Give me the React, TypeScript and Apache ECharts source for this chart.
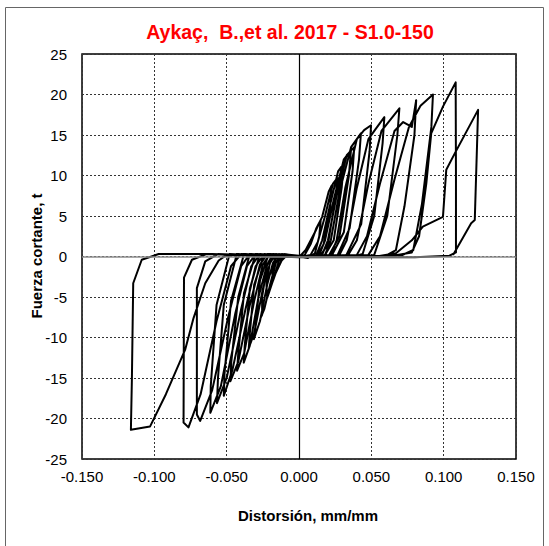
import React, { useEffect, useRef } from "react";
import * as echarts from "echarts";

const chartTitle = "Aykaç,  B.,et al. 2017 - S1.0-150";
const xAxisTitle = "Distorsión, mm/mm";
const yAxisTitle = "Fuerza cortante, t";

const xRange = [-0.15, 0.15];
const xStep = 0.05;
const yRange = [-25, 25];
const yStep = 5;

// Negative half-cycles [distortion, force]
const negativeHalfCycles: [number, number][][] = [
  [[0, 0.1], [-0.008, 0.2], [-0.012, -0.5], [-0.016, -2.0], [-0.018, -3.0], [-0.0185, -2.0], [-0.016, -0.3], [-0.01, 0.3]],
  [[0, 0.0], [-0.01, 0.3], [-0.014, -0.6], [-0.018, -3.0], [-0.021, -4.6], [-0.022, -5.1], [-0.0225, -3.5], [-0.02, -0.6], [-0.014, 0.3]],
  [[0, 0.1], [-0.012, 0.3], [-0.016, -0.8], [-0.02, -3.5], [-0.024, -6.5], [-0.0266, -7.6], [-0.0255, -7.2], [-0.0255, -5.0], [-0.022, -1.0], [-0.016, 0.3]],
  [[0, 0.1], [-0.014, 0.3], [-0.018, -0.8], [-0.022, -3.5], [-0.027, -8.0], [-0.0312, -10.2], [-0.030, -8.5], [-0.027, -3.0], [-0.021, 0.3]],
  [[0, 0.1], [-0.016, 0.3], [-0.02, -0.8], [-0.025, -4.0], [-0.031, -9.5], [-0.0347, -11.3], [-0.034, -9.5], [-0.031, -3.5], [-0.024, 0.3]],
  [[0, 0.1], [-0.018, 0.3], [-0.022, -1.0], [-0.028, -5.0], [-0.034, -11.0], [-0.0382, -13.1], [-0.0375, -11.0], [-0.034, -4.0], [-0.027, 0.3]],
  [[0, 0.1], [-0.02, 0.3], [-0.025, -1.0], [-0.031, -5.5], [-0.038, -12.0], [-0.0428, -14.1], [-0.042, -12.0], [-0.038, -4.5], [-0.03, 0.3]],
  [[0, 0.1], [-0.022, 0.3], [-0.027, -1.0], [-0.034, -6.0], [-0.042, -13.0], [-0.0474, -15.4], [-0.0468, -13.0], [-0.042, -5.0], [-0.034, 0.3]],
  [[0, 0.1], [-0.024, 0.3], [-0.03, -1.2], [-0.037, -6.5], [-0.046, -14.0], [-0.052, -17.2], [-0.0515, -14.5], [-0.047, -5.5], [-0.038, 0.3]],
  [[0, 0.1], [-0.027, 0.3], [-0.033, -1.2], [-0.04, -6.5], [-0.05, -15.0], [-0.0567, -18.1], [-0.056, -15.0], [-0.052, -6.0], [-0.043, 0.3]],
  [[0, 0.1], [-0.03, 0.3], [-0.036, -1.2], [-0.044, -7.0], [-0.054, -16.0], [-0.0613, -19.3], [-0.061, -16.0], [-0.057, -6.0], [-0.048, 0.3]],
  [[0, 0.1], [-0.034, 0.3], [-0.04, -1.2], [-0.049, -7.5], [-0.06, -16.5], [-0.0683, -20.3], [-0.0706, -19.5], [-0.0706, -3.9], [-0.0648, -0.6], [-0.056, 0.3]],
  [[0, 0.1], [-0.04, 0.3], [-0.047, -1.2], [-0.057, -8.0], [-0.068, -17.0], [-0.0764, -21.1], [-0.0798, -20.5], [-0.0795, -2.6], [-0.074, -0.4], [-0.064, 0.3]],
  [[0, 0.1], [-0.05, 0.2], [-0.0555, -0.5], [-0.0648, -3.3], [-0.0729, -7.6], [-0.0787, -11.5], [-0.092, -17.0], [-0.103, -21.0], [-0.1162, -21.4], [-0.1155, -15.0], [-0.1146, -3.3], [-0.1087, -0.4], [-0.097, 0.3], [-0.06, 0.3]],
];

// Positive half-cycles [distortion, force]
const positiveHalfCycles: [number, number][][] = [
  [[0, -0.1], [0.004, 0.2], [0.008, 1.5], [0.012, 3.5], [0.015, 4.5], [0.014, 2.5], [0.011, 0.4], [0.006, -0.2]],
  [[0, -0.1], [0.0046, 0.8], [0.011, 3.0], [0.016, 4.9], [0.0205, 8.0], [0.0227, 8.8], [0.0215, 6.0], [0.017, 1.5], [0.012, -0.1]],
  [[0, -0.1], [0.008, 0.2], [0.013, 1.8], [0.018, 5.0], [0.0235, 9.0], [0.0266, 9.7], [0.025, 7.0], [0.02, 1.5], [0.014, -0.1]],
  [[0, -0.1], [0.012, 0.2], [0.016, 2.0], [0.021, 6.0], [0.027, 10.5], [0.031, 11.5], [0.0295, 8.5], [0.024, 2.0], [0.017, -0.1]],
  [[0, -0.1], [0.014, 0.2], [0.018, 2.0], [0.024, 7.0], [0.031, 12.0], [0.0359, 13.1], [0.0345, 10.0], [0.028, 2.5], [0.02, -0.1]],
  [[0, -0.1], [0.016, 0.2], [0.02, 2.0], [0.026, 7.5], [0.033, 12.5], [0.0382, 13.5], [0.037, 10.5], [0.031, 3.0], [0.022, -0.1]],
  [[0, -0.1], [0.018, 0.2], [0.022, 2.0], [0.028, 8.0], [0.036, 13.5], [0.0428, 15.2], [0.0415, 12.0], [0.035, 3.5], [0.026, -0.1]],
  [[0, -0.1], [0.022, 0.2], [0.026, 2.0], [0.032, 8.5], [0.04, 14.5], [0.045, 15.6], [0.0498, 16.2], [0.0488, 13.0], [0.043, 4.0], [0.032, -0.1]],
  [[0, -0.1], [0.028, 0.2], [0.033, 2.0], [0.04, 8.5], [0.048, 14.5], [0.0528, 15.7], [0.059, 17.2], [0.0578, 14.0], [0.052, 5.0], [0.044, 0.3], [0.036, -0.1]],
  [[0, -0.1], [0.034, 0.2], [0.04, 2.0], [0.048, 9.0], [0.057, 15.5], [0.0628, 16.8], [0.0694, 18.3], [0.068, 15.0], [0.061, 5.0], [0.052, 0.2], [0.042, -0.1]],
  [[0, -0.1], [0.04, 0.2], [0.047, 2.5], [0.056, 9.0], [0.066, 15.5], [0.072, 16.6], [0.078, 16.0], [0.081, 19.3], [0.0798, 15.0], [0.0729, 6.2], [0.067, 0.8], [0.058, -0.1]],
  [[0, -0.1], [0.048, 0.2], [0.056, 2.5], [0.066, 9.5], [0.076, 16.0], [0.084, 18.6], [0.0926, 20.0], [0.0915, 16.0], [0.085, 6.5], [0.079, 0.8], [0.068, -0.1]],
  [[0, -0.1], [0.065, 0.1], [0.078, 0.5], [0.083, 2.5], [0.088, 9.0], [0.0914, 15.2], [0.0995, 18.5], [0.1083, 21.5], [0.1085, 10.0], [0.1085, 0.5], [0.104, 0.1], [0.08, -0.1]],
  [[0, -0.1], [0.05, -0.1], [0.067, 0.4], [0.078, 2.0], [0.0856, 3.7], [0.0995, 4.9], [0.1018, 10.7], [0.1076, 12.7], [0.1238, 18.1], [0.1215, 4.5], [0.119, 4.1], [0.1065, 0.2]],
];

const FONT = "'Liberation Sans', Arial, sans-serif";

export default function App() {
  const ref = useRef<HTMLDivElement>(null);

  useEffect(() => {
    if (!ref.current) return;
    const chart = echarts.init(ref.current, null, { renderer: "svg" });

    const path: [number, number][] = [];
    const n = Math.max(negativeHalfCycles.length, positiveHalfCycles.length);
    for (let i = 0; i < n; i++) {
      if (negativeHalfCycles[i]) path.push(...negativeHalfCycles[i]);
      if (positiveHalfCycles[i]) path.push(...positiveHalfCycles[i]);
    }

    chart.setOption({
      animation: false,
      backgroundColor: "#ffffff",
      grid: {
        left: 82,
        right: 33,
        top: 54,
        bottom: 87,
        show: true,
        borderColor: "#000",
        borderWidth: 1.5,
        backgroundColor: "transparent",
      },
      xAxis: {
        type: "value",
        min: xRange[0],
        max: xRange[1],
        interval: xStep,
        axisLine: { show: false, onZero: false },
        axisTick: { show: false },
        axisLabel: {
          color: "#000",
          fontFamily: FONT,
          fontSize: 15,
          margin: 10,
          formatter: (v: number) => (Math.abs(v) < 1e-9 ? "0.000" : v.toFixed(3)),
        },
        splitLine: { show: true, lineStyle: { color: "#333", width: 1, type: [2, 2] } },
      },
      yAxis: {
        type: "value",
        min: yRange[0],
        max: yRange[1],
        interval: yStep,
        axisLine: { show: false, onZero: false },
        axisTick: { show: false },
        axisLabel: {
          color: "#000",
          fontFamily: FONT,
          fontSize: 15,
          margin: 15,
          formatter: (v: number) => String(Math.round(v)),
        },
        splitLine: { show: true, lineStyle: { color: "#333", width: 1, type: [2, 2] } },
      },
      graphic: [
        {
          type: "rect",
          shape: { x: 5.5, y: 7.5, width: 538, height: 560 },
          style: { fill: "none", stroke: "#666", lineWidth: 1 },
          silent: true,
        },
        {
          type: "text",
          x: 290,
          y: 32,
          style: {
            text: chartTitle,
            fill: "#ff0000",
            font: `bold 19.5px ${FONT}`,
            textAlign: "center",
            textVerticalAlign: "middle",
          },
        },
        {
          type: "text",
          x: 308,
          y: 515,
          style: {
            text: xAxisTitle,
            fill: "#000",
            font: `bold 15px ${FONT}`,
            textAlign: "center",
            textVerticalAlign: "middle",
          },
        },
        {
          type: "text",
          x: 36,
          y: 256,
          rotation: Math.PI / 2,
          style: {
            text: yAxisTitle,
            fill: "#000",
            font: `bold 15px ${FONT}`,
            textAlign: "center",
            textVerticalAlign: "middle",
          },
        },
      ],
      series: [
        {
          type: "line",
          data: [[0, 0]],
          symbol: "none",
          lineStyle: { opacity: 0 },
          silent: true,
          z: 1,
          markLine: {
            silent: true,
            symbol: "none",
            label: { show: false },
            data: [
              { xAxis: 0, lineStyle: { color: "#000", width: 1.2, type: "solid" } },
              { yAxis: 0, lineStyle: { color: "#8c8c8c", width: 1.5, type: "solid" } },
            ],
          },
        },
        {
          type: "line",
          data: path,
          symbol: "none",
          smooth: false,
          z: 3,
          lineStyle: { color: "#000", width: 2, join: "round" },
        },
      ],
    });

    return () => chart.dispose();
  }, []);

  return (
    <div
      ref={ref}
      style={{ position: "absolute", left: 0, top: 0, width: 549, height: 546 }}
    />
  );
}
